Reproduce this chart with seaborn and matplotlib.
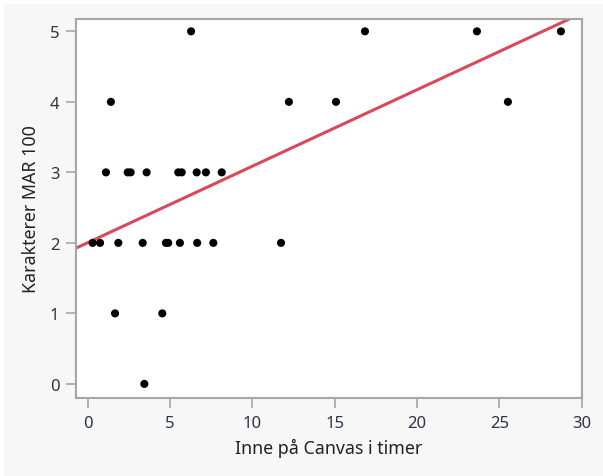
import numpy as np
import pandas as pd
import matplotlib
matplotlib.use("Agg")
import matplotlib.pyplot as plt
import seaborn as sns
from matplotlib.patches import Rectangle

# Data
hours_5 = [6.28, 16.84, 23.64, 28.74]
hours_4 = [1.41, 12.22, 15.08, 25.52]
hours_3 = [1.11, 2.43, 2.61, 3.58, 5.50, 5.71, 6.62, 7.18, 8.14]
hours_2 = [0.30, 0.75, 1.86, 3.34, 4.75, 4.89, 5.60, 6.65, 7.63, 11.74]
hours_1 = [1.66, 4.53]
hours_0 = [3.44]
grade_levels = [5, 4, 3, 2, 1, 0]
x_ticks = [0, 5, 10, 15, 20, 25, 30]
y_ticks = [0, 1, 2, 3, 4, 5]
x_label = "Inne på Canvas i timer"
y_label = "Karakterer MAR 100"

groups = [hours_5, hours_4, hours_3, hours_2, hours_1, hours_0]
df = pd.DataFrame({
    "hours": [h for g in groups for h in g],
    "grade": [lvl for g, lvl in zip(groups, grade_levels) for _ in g],
})

sns.set_theme(style="white")
plt.rcParams["font.family"] = ["Noto Sans", "DejaVu Sans"]

fig = plt.figure(figsize=(6.03, 4.77), dpi=100, facecolor="white")
fig.patches.append(Rectangle((4 / 603, 0), 1, 1 - 5 / 477, transform=fig.transFigure,
                             facecolor="#f7f7f7", edgecolor="none", zorder=-10))
ax = fig.add_axes([76 / 603, 1 - 399 / 477, (582 - 76) / 603, (399 - 20) / 477])
ax.set_facecolor("white")

sns.regplot(data=df, x="hours", y="grade", ax=ax, ci=None, truncate=False,
            scatter_kws=dict(s=34, color="black", alpha=1, edgecolors="none", zorder=3),
            line_kws=dict(color="#d9495b", lw=2.2, zorder=2))
ax.set_xlim(-0.71, 30.02)
ax.set_ylim(-0.2, 5.175)

ax.set_xticks(x_ticks)
ax.set_yticks(y_ticks)
for s in ax.spines.values():
    s.set_color("#a6a6a6")
    s.set_linewidth(1.5)
ax.tick_params(axis="both", direction="out", length=7, width=1.2, color="#a6a6a6",
               labelcolor="#2e3440", labelsize=12, pad=5, bottom=True, left=True)
ax.set_xlabel(x_label, fontsize=12.8, color="#222222", labelpad=5)
ax.set_ylabel(y_label, fontsize=12.8, color="#222222", labelpad=7)

fig.savefig("out.png", dpi=100, facecolor=fig.get_facecolor())
